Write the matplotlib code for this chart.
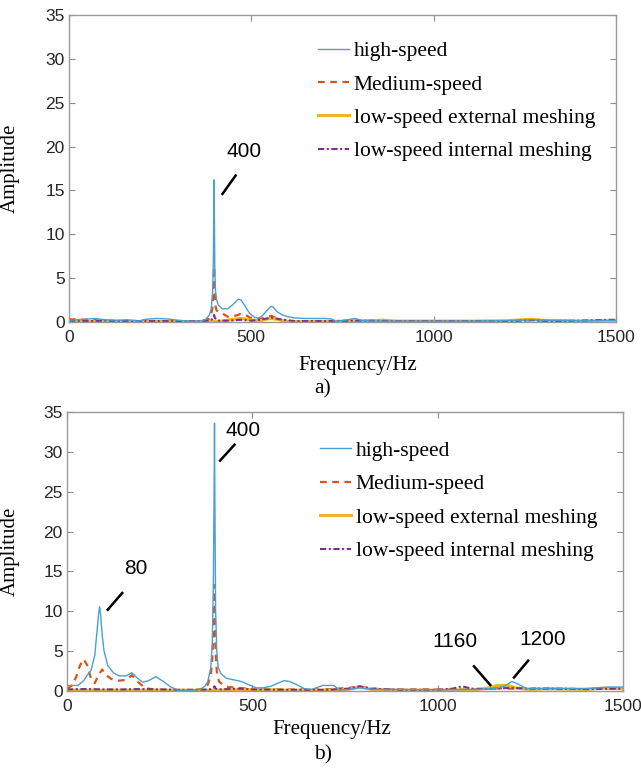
import numpy as np
import matplotlib
matplotlib.use('Agg')
import matplotlib.pyplot as plt

# ---------- values ----------
# panel a)
a_high_f = [0, 20, 40, 70, 100, 130, 160, 190, 210, 240, 270, 300, 330, 360, 375, 385, 390, 394, 396, 397, 398, 399,
            400, 402, 405, 410, 420, 435, 450, 465, 472, 480, 495, 510, 520, 530, 545, 555, 560, 570, 585, 600, 620,
            650, 700, 720, 730, 750, 770, 785, 800, 830, 900, 1000, 1100, 1200, 1270, 1300, 1400, 1500]
a_high = [0.2, 0.25, 0.3, 0.4, 0.25, 0.2, 0.25, 0.1, 0.3, 0.4, 0.35, 0.2, 0.1, 0.1, 0.3, 0.8, 1.5, 3.5, 7, 12, 16.2, 11,
          6, 3.5, 2.5, 1.9, 1.5, 1.5, 2.0, 2.6, 2.5, 2.0, 1.0, 0.5, 0.45, 0.7, 1.4, 1.8, 1.7, 1.2, 0.8, 0.6, 0.45,
          0.4, 0.4, 0.35, 0.1, 0.15, 0.3, 0.4, 0.2, 0.1, 0.1, 0.1, 0.1, 0.15, 0.25, 0.2, 0.15, 0.2]

a_med_f = [0, 20, 40, 60, 80, 100, 150, 200, 250, 300, 350, 375, 385, 390, 394, 396, 397, 398, 399, 400, 402, 405, 410,
           420, 435, 455, 470, 485, 500, 515, 530, 545, 555, 565, 580, 600, 700, 800, 900, 1000, 1100, 1200, 1270,
           1300, 1400, 1500]
a_med = [0.3, 0.3, 0.25, 0.3, 0.15, 0.1, 0.1, 0.15, 0.1, 0.1, 0.1, 0.2, 0.4, 0.8, 1.8, 3.5, 5, 6.3, 4.5, 3, 1.8, 1.3, 1.2,
         1.0, 0.6, 0.7, 0.9, 0.8, 0.4, 0.3, 0.4, 0.6, 0.7, 0.5, 0.2, 0.1, 0.1, 0.15, 0.1, 0.1, 0.1, 0.1, 0.2,
         0.15, 0.1, 0.15]

a_ext_f = [0, 100, 200, 300, 380, 420, 450, 470, 490, 520, 545, 555, 570, 600, 700, 800, 860, 900, 1000, 1100, 1200,
           1270, 1300, 1400, 1500]
a_ext = [0.05, 0.05, 0.05, 0.05, 0.05, 0.1, 0.3, 0.4, 0.3, 0.1, 0.35, 0.4, 0.3, 0.05, 0.05, 0.1, 0.2, 0.1, 0.1, 0.1, 0.15,
         0.3, 0.2, 0.1, 0.1]

a_int_f = [0, 50, 100, 150, 200, 250, 300, 350, 385, 392, 396, 398, 400, 404, 410, 440, 470, 500, 530, 555, 580, 620,
           700, 800, 900, 1000, 1100, 1200, 1270, 1320, 1400, 1480, 1500]
a_int = [0.15, 0.1, 0.15, 0.1, 0.1, 0.1, 0.1, 0.1, 0.15, 0.3, 0.6, 0.8, 0.5, 0.25, 0.15, 0.15, 0.25, 0.15, 0.3, 0.5, 0.3,
         0.1, 0.1, 0.15, 0.1, 0.1, 0.1, 0.1, 0.2, 0.1, 0.15, 0.25, 0.25]

# panel b)
b_high_f = [0, 30, 45, 55, 65, 75, 80, 85, 88, 91, 95, 100, 110, 125, 140, 160, 175, 190, 205, 220, 240, 260, 280, 300,
            320, 345, 360, 372, 380, 388, 392, 395, 397, 398, 399, 401, 404, 408, 415, 430, 450, 470, 490, 510, 530,
            550, 570, 585, 600, 620, 640, 660, 690, 720, 735, 760, 790, 830, 900, 1000, 1100, 1150, 1180, 1200, 1220,
            1240, 1300, 1400, 1460, 1500]
b_high = [0.7, 0.7, 1.3, 2.0, 2.6, 4.5, 7, 9.5, 10.6, 9.5, 7, 5, 3.2, 2.3, 1.9, 1.9, 2.3, 1.6, 1.1, 1.3, 1.8, 1.2, 0.5,
          0.1, 0.1, 0.1, 0.2, 0.6, 1.2, 3, 6, 14, 26, 33.6, 24, 10, 5, 3, 2.2, 1.6, 1.4, 1.2, 0.8, 0.4, 0.4, 0.6, 1.0,
          1.3, 1.2, 0.8, 0.3, 0.2, 0.7, 0.7, 0.1, 0.2, 0.4, 0.2, 0.2, 0.15, 0.2, 0.3, 0.6, 1.2, 0.8, 0.3, 0.3, 0.3,
          0.5, 0.5]

b_med_f = [0, 15, 25, 35, 45, 55, 65, 75, 85, 95, 105, 120, 140, 160, 175, 190, 210, 230, 260, 300, 340, 370, 380, 388,
           392, 395, 397, 398, 399, 401, 404, 410, 420, 435, 460, 490, 520, 600, 700, 790, 850, 900, 1000, 1100, 1170,
           1200, 1250, 1300, 1400, 1500]
b_med = [0.2, 0.8, 1.8, 3.2, 4.0, 3.2, 1.5, 1.0, 2.0, 2.7, 2.0, 1.5, 1.3, 1.4, 2.0, 1.2, 0.4, 0.2, 0.15, 0.1, 0.1, 0.3,
         0.8, 2, 4, 7, 11, 13.3, 10, 5, 2.5, 1.2, 0.8, 0.5, 0.4, 0.3, 0.2, 0.2, 0.2, 0.5, 0.2, 0.2, 0.2, 0.2, 0.35,
         0.3, 0.3, 0.25, 0.25, 0.35]

b_ext_f = [0, 100, 200, 300, 400, 500, 600, 700, 760, 790, 820, 900, 1000, 1100, 1140, 1160, 1190, 1210, 1250, 1300,
           1400, 1440, 1500]
b_ext = [0.1, 0.1, 0.1, 0.1, 0.1, 0.2, 0.1, 0.1, 0.2, 0.5, 0.2, 0.1, 0.1, 0.15, 0.4, 0.7, 0.7, 0.4, 0.2, 0.3, 0.2, 0.35,
         0.3]

b_int_f = [0, 50, 100, 150, 200, 250, 300, 350, 385, 395, 398, 401, 410, 440, 460, 500, 600, 700, 760, 790, 820, 900,
           1000, 1040, 1066, 1090, 1130, 1200, 1240, 1300, 1400, 1500]
b_int = [0.2, 0.25, 0.2, 0.2, 0.25, 0.2, 0.15, 0.15, 0.2, 0.4, 0.6, 0.3, 0.2, 0.25, 0.3, 0.2, 0.15, 0.15, 0.3, 0.6, 0.3,
         0.15, 0.15, 0.3, 0.6, 0.3, 0.25, 0.4, 0.3, 0.3, 0.25, 0.3]

labels = ['high-speed', 'Medium-speed', 'low-speed external meshing', 'low-speed internal meshing']
x_ticks = [0, 500, 1000, 1500]
y_ticks = [0, 5, 10, 15, 20, 25, 30, 35]

# peak labels: (text, text xy, line start, line end) in data units
a_notes = [('400', (479, 19.4), (421, 14.6), (457, 16.7))]
b_notes = [('400', (474, 32.7), (413, 28.9), (452, 30.9)),
           ('80', (185, 15.4), (110, 10.2), (149, 12.3)),
           ('1160', (1047, 6.2), (1142, 0.75), (1098, 3.1)),
           ('1200', (1283, 6.5), (1206, 1.7), (1244, 3.8))]

plt.rcParams.update({'font.family': 'sans-serif',
                     'font.sans-serif': ['Liberation Sans', 'DejaVu Sans']})

fig = plt.figure(figsize=(6.41, 7.69), dpi=100)
ax1 = fig.add_axes([0.1076, 0.5813, 0.8533, 0.3992])
ax2 = fig.add_axes([0.1045, 0.1014, 0.8674, 0.3628])

styles = [dict(color='#4a9fd4', lw=1.0, ls='-'),
          dict(color='#d95319', lw=1.6, ls=(0, (3, 2.5))),
          dict(color='#f2b51c', lw=2.2, ls='-'),
          dict(color='#7e2f8e', lw=1.5, ls=(0, (3, 1.2, 1, 1.2)))]

panels = [(ax1, [(a_high_f, a_high), (a_med_f, a_med), (a_ext_f, a_ext), (a_int_f, a_int)], a_notes,
           0.95, 0.528, -0.11, -0.09),
          (ax2, [(b_high_f, b_high), (b_med_f, b_med), (b_ext_f, b_ext), (b_int_f, b_int)], b_notes,
           0.935, 0.477, -0.105, -0.084)]

for ax, series, notes, leg_top, xl_pos, xl_y, yl_x in panels:
    lines = []
    for (f, a), st, lab in zip(series, styles, labels):
        ln, = ax.plot(f, a, label=lab, **st)
        lines.append(ln)
    lines[0].set_zorder(2.1)
    ax.set_xlim(0, 1500)
    ax.set_ylim(0, 35)
    ax.set_xticks(x_ticks)
    ax.set_yticks(y_ticks)
    ax.tick_params(direction='in', top=True, right=True, length=4, color='#8c8c8c',
                   labelcolor='#262626', labelsize=12.5)
    ax.tick_params(axis='x', pad=6)
    ax.tick_params(axis='y', pad=3)
    for sp in ax.spines.values():
        sp.set_color('#9a9a9a')
        sp.set_linewidth(1.0)
    ax.set_xlabel('Frequency/Hz', fontfamily='Liberation Serif', fontsize=15)
    ax.set_ylabel('Amplitude', fontfamily='Liberation Serif', fontsize=15)
    ax.xaxis.set_label_coords(xl_pos, xl_y)
    ax.yaxis.set_label_coords(yl_x, 0.5)
    for txt, txy, p0, p1 in notes:
        ax.plot([p0[0], p1[0]], [p0[1], p1[1]], color='black', lw=1.8, zorder=5)
        ax.text(txy[0], txy[1], txt, ha='center', va='center', fontsize=15, color='black')
    ax.legend(loc='upper left', bbox_to_anchor=(0.436, leg_top), frameon=False, borderpad=0,
              handlelength=1.45, handletextpad=0.2, labelspacing=0.62,
              prop={'family': 'Liberation Serif', 'size': 15.5})

fig.text(0.504, 1 - 389 / 769, 'a)', ha='center', va='center', fontfamily='Liberation Serif', fontsize=15.5)
fig.text(0.504, 1 - 755 / 769, 'b)', ha='center', va='center', fontfamily='Liberation Serif', fontsize=15.5)

plt.savefig('out.png', dpi=100)
